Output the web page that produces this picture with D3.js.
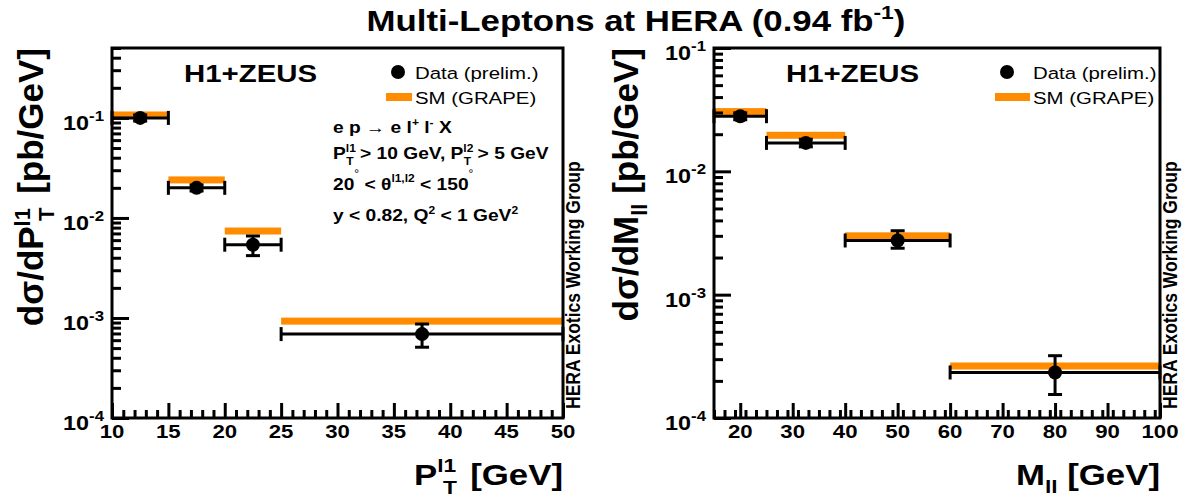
<!DOCTYPE html>
<html>
<head>
<meta charset="utf-8">
<script src="https://cdn.jsdelivr.net/npm/d3@7"></script>
<style>
  html, body { margin: 0; padding: 0; background: #fff; }
  svg { display: block; font-family: "Liberation Sans", Arial, Helvetica, sans-serif; }
</style>
</head>
<body>
<svg id="chart" width="1194" height="497"></svg>
<script>
// ---------------- DATA ----------------
const ptEdges   = [10, 15, 20, 25, 50];
const ptCenters = [12.5, 17.5, 22.5, 37.5];
const ptData    = [0.100, 0.0200, 0.0054, 0.00069];
const ptErrLo   = [0.093, 0.0186, 0.0042, 0.00051];
const ptErrHi   = [0.107, 0.0214, 0.0066, 0.00087];
const ptSM      = [0.107, 0.0240, 0.0074, 0.00093];

const mEdges    = [15, 25, 40, 60, 100];
const mCenters  = [20, 32.5, 50, 80];
const mData     = [0.0280, 0.0170, 0.00275, 0.000234];
const mErrLo    = [0.0262, 0.0158, 0.00238, 0.000155];
const mErrHi    = [0.0298, 0.0182, 0.00330, 0.000320];
const mSM       = [0.0305, 0.0196, 0.00300, 0.000264];

const yTickExps = [-4, -3, -2, -1];
const ptXTicks  = [10, 15, 20, 25, 30, 35, 40, 45, 50];
const mXTicks   = [20, 30, 40, 50, 60, 70, 80, 90, 100];

const ORANGE = "#ff8c00";
const SX = 1.2;   // horizontal stretch of the reference lettering
const svg = d3.select("#chart");

function txt(parent, x, y, size, o = {}) {
  const sx = o.sx !== undefined ? o.sx : SX;
  const tr = `translate(${x},${y}) scale(${sx},1)` + (o.rot ? " rotate(-90)" : "");
  const t = parent.append("text").attr("transform", tr)
    .attr("font-size", size).attr("font-weight", o.fw || "bold")
    .attr("text-anchor", o.anchor || "start");
  (o.parts || [{t: o.text}]).forEach(p => {
    const s = t.append("tspan").text(p.t);
    if (p.fs) s.attr("font-size", p.fs);
    if (p.dy) s.attr("dy", p.dy);
    if (p.dx) s.attr("dx", p.dx);
    if (p.fw) s.attr("font-weight", p.fw);
  });
  return t;
}

// Title
txt(svg, 636, 31, 29, {anchor: "middle", parts: [
  {t: "Multi-Leptons at HERA (0.94 fb"}, {t: "-1", fs: 19, dy: -12}, {t: ")", dy: 12}]});

function styleAxis(sel) {
  sel.select(".domain").remove();
  sel.selectAll(".tick line").attr("stroke", "#000").attr("stroke-width", 3);
  sel.selectAll(".tick text").remove();
}

function panel(opt) {
  const g = svg.append("g");
  const x = d3.scaleLinear().domain(opt.xDomain).range([opt.x0, opt.x1]);
  const y = d3.scaleLog().domain(opt.yDomain).range([opt.y1, opt.y0]);

  // x tick labels
  opt.xTicks.forEach(v => txt(g, x(v), opt.y1 + 20, 18.5, {anchor: "middle", text: String(v)}));

  // y tick labels
  yTickExps.forEach(e => {
    const v = Math.pow(10, e);
    if (v < opt.yDomain[0] * 0.999 || v > opt.yDomain[1] * 1.001) return;
    txt(g, opt.x0 - 8, y(v) + 12, 19.5, {anchor: "end", parts: [
      {t: "10"}, {t: String(e), fs: 14, dy: -9}]});
  });

  // SM bands
  g.selectAll("rect.sm").data(opt.sm).join("rect").attr("class", "sm")
    .attr("x", (d, i) => x(opt.edges[i])).attr("width", (d, i) => x(opt.edges[i + 1]) - x(opt.edges[i]))
    .attr("y", d => y(d) - 3.5).attr("height", 7).attr("fill", ORANGE);

  // Data: bin-width bars, error bars, markers
  opt.data.forEach((d, i) => {
    const xa = x(opt.edges[i]), xb = x(opt.edges[i + 1]), yy = y(d);
    g.append("line").attr("x1", xa).attr("x2", xb).attr("y1", yy).attr("y2", yy)
      .attr("stroke", "#000").attr("stroke-width", 3);
    [xa, xb].forEach(xx => g.append("line").attr("x1", xx).attr("x2", xx)
      .attr("y1", yy - 7).attr("y2", yy + 7).attr("stroke", "#000").attr("stroke-width", 3));
    const cx = x(opt.centers[i]);
    const ylo = y(opt.errLo[i]), yhi = y(opt.errHi[i]);
    g.append("line").attr("x1", cx).attr("x2", cx).attr("y1", yhi).attr("y2", ylo)
      .attr("stroke", "#000").attr("stroke-width", 3);
    [ylo, yhi].forEach(yv => g.append("line").attr("x1", cx - 7).attr("x2", cx + 7)
      .attr("y1", yv).attr("y2", yv).attr("stroke", "#000").attr("stroke-width", 3));
    g.append("circle").attr("cx", cx).attr("cy", yy).attr("r", 7).attr("fill", "#000");
  });

  // Frame
  g.append("rect").attr("x", opt.x0).attr("y", opt.y0)
    .attr("width", opt.x1 - opt.x0).attr("height", opt.y1 - opt.y0)
    .attr("fill", "none").attr("stroke", "#000").attr("stroke-width", 3);

  // Tick marks (inward, left and bottom axes only) via d3 axes
  const yMinor = [], yMajor = [];
  for (let e = -4; e <= 0; e++) for (let m = 1; m <= 9; m++) {
    const v = m * Math.pow(10, e);
    if (v >= opt.yDomain[0] * 0.9999 && v <= opt.yDomain[1] * 1.0001) (m === 1 ? yMajor : yMinor).push(v);
  }
  g.append("g").attr("transform", `translate(${opt.x0},0)`)
    .call(d3.axisLeft(y).tickValues(yMinor).tickSize(-9).tickSizeOuter(0).tickFormat(""))
    .call(styleAxis);
  g.append("g").attr("transform", `translate(${opt.x0},0)`)
    .call(d3.axisLeft(y).tickValues(yMajor).tickSize(-17).tickSizeOuter(0).tickFormat(""))
    .call(styleAxis);
  const xAll = d3.range(opt.xDomain[0], opt.xDomain[1] + 0.001, opt.xMinorStep);
  const xMinor = xAll.filter(v => !opt.xTicks.some(t => Math.abs(t - v) < 1e-6));
  g.append("g").attr("transform", `translate(0,${opt.y1})`)
    .call(d3.axisBottom(x).tickValues(xMinor).tickSize(-8).tickSizeOuter(0).tickFormat(""))
    .call(styleAxis);
  g.append("g").attr("transform", `translate(0,${opt.y1})`)
    .call(d3.axisBottom(x).tickValues(opt.xTicks).tickSize(-15).tickSizeOuter(0).tickFormat(""))
    .call(styleAxis);

  // H1+ZEUS
  txt(g, opt.x0 + 72, opt.y0 + 34, 24.5, {text: "H1+ZEUS"});

  // Legend
  g.append("circle").attr("cx", opt.legX).attr("cy", opt.y0 + 24).attr("r", 7).attr("fill", "#000");
  txt(g, opt.legTX, opt.y0 + 31, 17, {fw: "normal", text: "Data (prelim.)"});
  g.append("rect").attr("x", opt.legX - 12).attr("y", opt.y0 + 45).attr("width", opt.legW).attr("height", 8).attr("fill", ORANGE);
  txt(g, opt.legTX, opt.y0 + 56, 17, {fw: "normal", text: "SM (GRAPE)"});

  // HERA Exotics Working Group (vertical)
  txt(g, opt.x1 + 17, opt.y1 - 9, 17.5, {rot: true, text: "HERA Exotics Working Group"});

  return {g, x, y};
}

panel({
  xDomain: [10, 50], yDomain: [1e-4, 0.5], x0: 112, x1: 563, y0: 48, y1: 418,
  xTicks: ptXTicks, xMinorStep: 1, edges: ptEdges, centers: ptCenters,
  data: ptData, errLo: ptErrLo, errHi: ptErrHi, sm: ptSM, legX: 398, legTX: 415, legW: 26
});
panel({
  xDomain: [15, 100], yDomain: [1e-4, 1e-1], x0: 714, x1: 1160, y0: 48, y1: 418,
  xTicks: mXTicks, xMinorStep: 2, edges: mEdges, centers: mCenters,
  data: mData, errLo: mErrLo, errHi: mErrHi, sm: mSM, legX: 1007, legTX: 1033, legW: 35
});

// Annotation text in left panel
const ax = 333, afs = 16;
txt(svg, ax, 133, afs, {parts: [{t: "e p "}, {t: "→", fw: "normal"}, {t: " e l"}, {t: "+", fs: 10, dy: -7},
  {t: " l", dy: 7}, {t: "-", fs: 10, dy: -7}, {t: " X", dy: 7}]});
txt(svg, ax, 159, afs, {parts: [{t: "P"}, {t: "l1", fs: 10, dy: -7}, {t: "T", fs: 10, dx: -8, dy: 13},
  {t: " > 10 GeV, P", dy: -6, dx: 1}, {t: "l2", fs: 10, dy: -7}, {t: "T", fs: 10, dx: -8, dy: 13},
  {t: " > 5 GeV", dy: -6, dx: 1}]});
txt(svg, ax, 190, afs, {parts: [{t: "20"}, {t: "°", fs: 10, dy: -13, fw: "normal"}, {t: " < θ", dy: 13},
  {t: "l1,l2", fs: 10, dy: -8}, {t: " < 150", dy: 8}, {t: "°", fs: 10, dy: -13, fw: "normal"}]});
txt(svg, ax, 221, afs, {parts: [{t: "y < 0.82, Q"}, {t: "2", fs: 10, dy: -7}, {t: " < 1 GeV", dy: 7},
  {t: "2", fs: 10, dy: -7}]});

// Y axis titles (rotated, right-aligned to the top of the frame)
txt(svg, 43, 48, 35, {rot: true, sx: 1, anchor: "end", parts: [
  {t: "dσ/dP"}, {t: "l1", fs: 22, dy: -13}, {t: "T", fs: 22, dx: -13, dy: 24}, {t: "  [pb/GeV]", dy: -11, dx: 4}]});
txt(svg, 638, 48, 35, {rot: true, sx: 1, anchor: "end", parts: [
  {t: "dσ/dM"}, {t: "ll", fs: 22, dy: 9}, {t: " [pb/GeV]", dy: -9}]});

// X axis titles (right-aligned to the frame end)
txt(svg, 563, 485, 29, {anchor: "end", parts: [
  {t: "P"}, {t: "l1", fs: 19, dy: -13}, {t: "T", fs: 19, dx: -11, dy: 22}, {t: "  [GeV]", dy: -9, dx: 3}]});
txt(svg, 1160, 485, 29, {anchor: "end", parts: [
  {t: "M"}, {t: "ll", fs: 19, dy: 8}, {t: " [GeV]", dy: -8}]});
</script>
</body>
</html>
